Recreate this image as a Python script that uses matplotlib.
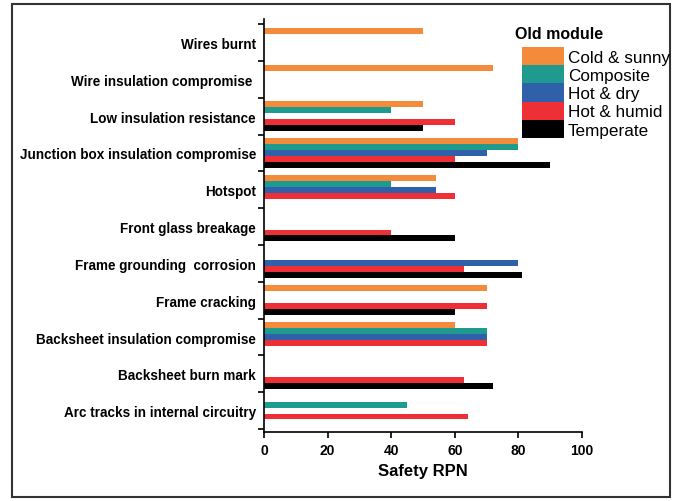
import numpy as np
import matplotlib.pyplot as plt
from matplotlib.patches import Patch, Rectangle

plt.rcParams['font.family'] = ['Liberation Sans', 'DejaVu Sans']

# categories listed top to bottom
categories = [
    "Wires burnt",
    "Wire insulation compromise ",
    "Low insulation resistance",
    "Junction box insulation compromise",
    "Hotspot",
    "Front glass breakage",
    "Frame grounding  corrosion",
    "Frame cracking",
    "Backsheet insulation compromise",
    "Backsheet burn mark",
    "Arc tracks in internal circuitry",
]

# climate zones, 0 = no bar
cold_sunny = [50, 72, 50, 80, 54, 0, 0, 70, 60, 0, 0]
composite = [0, 0, 40, 80, 40, 0, 0, 0, 70, 0, 45]
hot_dry = [0, 0, 0, 70, 54, 0, 80, 0, 70, 0, 0]
hot_humid = [0, 0, 60, 60, 60, 40, 63, 70, 70, 63, 64]
temperate = [0, 0, 50, 90, 0, 60, 81, 60, 0, 72, 0]

series = [
    ("Cold & sunny", cold_sunny, "#F48B3A"),
    ("Composite", composite, "#1F9A8F"),
    ("Hot & dry", hot_dry, "#3160AB"),
    ("Hot & humid", hot_humid, "#EE2F35"),
    ("Temperate", temperate, "#000000"),
]

fig = plt.figure(figsize=(6.8, 5.02), dpi=100)
ax = fig.add_axes([264 / 680, 1 - 433 / 502, 318 / 680, 413 / 502])

n = len(categories)
centers = np.arange(n)[::-1]  # top category at highest y
bar_h = 0.16
for k, (name, vals, col) in enumerate(series):
    vals = np.array(vals, dtype=float)
    mask = vals > 0
    ax.barh(centers[mask] + (2 - k) * bar_h, vals[mask], height=bar_h,
            color=col, edgecolor='none')

ax.set_xlim(0, 100)
ax.set_ylim(-0.58, 10.64)
ax.set_xticks(np.arange(0, 101, 20))
ax.tick_params(axis='x', labelsize=10, length=4, width=1.2, pad=4)
for t in ax.get_xticklabels():
    t.set_fontweight('bold')

ax.set_yticks(np.arange(n + 1) - 0.5)
ax.set_yticklabels([])
ax.set_yticks(centers, minor=True)
ax.set_yticklabels(categories, minor=True, fontsize=9.75, fontweight='bold')
ax.tick_params(axis='y', which='major', length=4, width=1.2)
ax.tick_params(axis='y', which='minor', length=0, pad=5.8)

ax.spines['top'].set_visible(False)
ax.spines['right'].set_visible(False)
ax.spines['left'].set_linewidth(1.2)
ax.spines['bottom'].set_linewidth(1.2)

ax.set_xlabel("Safety RPN", fontsize=12, fontweight='bold', labelpad=4)

handles = [Patch(facecolor=c, edgecolor='none', label=nm) for nm, _, c in series]
fig.legend(handles=handles, loc='upper left',
           bbox_to_anchor=(522 / 680, 1 - 48 / 502), frameon=False,
           fontsize=12.3, handlelength=2.47, handleheight=1.26,
           labelspacing=0, handletextpad=0.22, borderpad=0, borderaxespad=0)
fig.text(515 / 680, 1 - 35 / 502, "Old module", fontsize=11.5,
         fontweight='bold', va='center', ha='left')

fig.patches.append(Rectangle((12 / 680, 4 / 502), 658 / 680, 493 / 502,
                             transform=fig.transFigure, fill=False,
                             edgecolor='#333333', linewidth=1.5))

fig.savefig("out.png", dpi=100)
